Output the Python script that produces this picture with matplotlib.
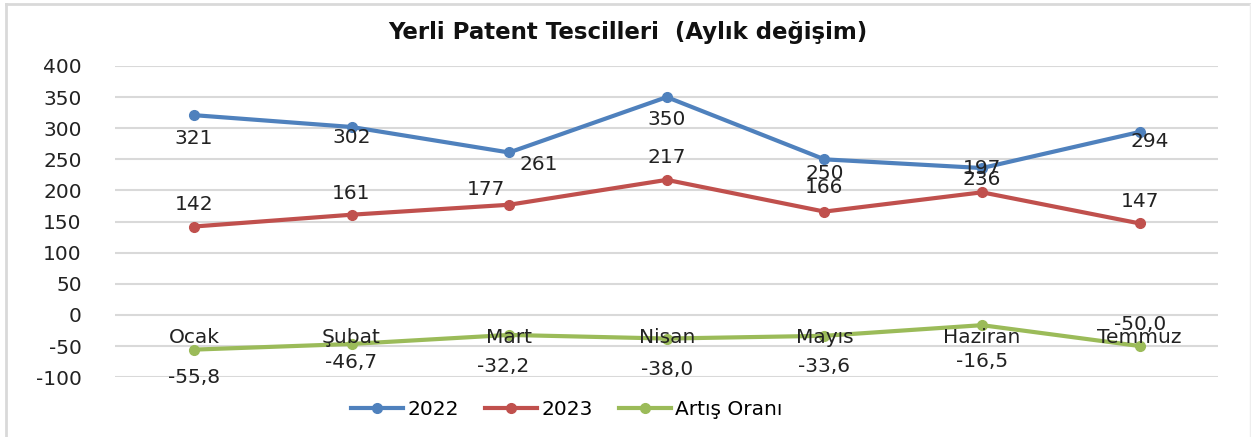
import matplotlib
matplotlib.use('Agg')
import matplotlib.pyplot as plt
from matplotlib.lines import Line2D

months = ['Ocak', 'Şubat', 'Mart', 'Nisan', 'Mayıs', 'Haziran', 'Temmuz']
v2022 = [321, 302, 261, 350, 250, 236, 294]
v2023 = [142, 161, 177, 217, 166, 197, 147]
artis = [-55.8, -46.7, -32.2, -38.0, -33.6, -16.5, -50.0]
# labels as printed on the original (Haziran labels are swapped there)
lbl2022 = ['321', '302', '261', '350', '250', '197', '294']
lbl2023 = ['142', '161', '177', '217', '166', '236', '147']
lblartis = ['-55,8', '-46,7', '-32,2', '-38,0', '-33,6', '-16,5', '-50,0']
yticks = [-100, -50, 0, 50, 100, 150, 200, 250, 300, 350, 400]

c_blue = '#4F81BD'
c_red = '#C0504D'
c_green = '#9BBB59'

# label offsets in pixels (dx, dy), dy positive = downwards
off2022 = [(0, 23), (0, 11), (30, 12), (0, 22), (0, 14), (0, 0), (10, 10)]
off2023 = [(0, -22), (0, -21), (-23, -15), (0, -22), (0, -24), (0, -13), (0, -22)]
offartis = [(0, 28), (0, 19), (-6, 32), (0, 31), (0, 31), (0, 36), (0, -22)]

fig = plt.figure(figsize=(12.51, 4.37), dpi=100)
ax = fig.add_axes([0.092, 0.137, 0.882, 0.712])

x = list(range(len(months)))
kw = dict(lw=3, marker='o', ms=7, solid_capstyle='round', zorder=3)
ax.plot(x, v2022, color=c_blue, **kw)
ax.plot(x, v2023, color=c_red, **kw)
ax.plot(x, artis, color=c_green, **kw)

fs = 14.5
for vals, lbls, offs in [(v2022, lbl2022, off2022), (v2023, lbl2023, off2023),
                         (artis, lblartis, offartis)]:
    for i, (v, t, (dx, dy)) in enumerate(zip(vals, lbls, offs)):
        ax.annotate(t, (i, v), xytext=(dx, -dy), textcoords='offset pixels',
                    ha='center', va='center', fontsize=fs, color='#222222', zorder=4)

# category labels sit just under the zero line
for i, m in enumerate(months):
    ax.annotate(m, (i, 0), xytext=(0, -23), textcoords='offset pixels',
                ha='center', va='center', fontsize=fs, color='#222222', zorder=4)

ax.set_xlim(-0.5, len(months) - 0.5)
ax.set_ylim(-100, 400)
ax.set_yticks(yticks)
ax.set_yticklabels([str(t) for t in yticks], fontsize=fs, color='#222222')
ax.tick_params(axis='y', length=0, pad=24)
ax.set_xticks([])
ax.grid(axis='y', color='#D9D9D9', lw=1.5)
ax.set_axisbelow(True)
for s in ax.spines.values():
    s.set_visible(False)

fig.text(0.502, 0.925, 'Yerli Patent Tescilleri  (Aylık değişim)', ha='center', va='center',
         fontsize=16.5, fontweight='bold', color='#111111')

handles = [Line2D([], [], color=c, lw=3, marker='o', ms=7) for c in (c_blue, c_red, c_green)]
fig.legend(handles, ['2022', '2023', 'Artış Oranı'], loc='center', bbox_to_anchor=(0.453, 0.062),
           ncol=3, frameon=False, fontsize=fs, handlelength=2.6, handletextpad=0.2,
           columnspacing=1.3)

# light frame around the chart
fig.add_artist(Line2D([0.005, 0.005], [0, 0.99], transform=fig.transFigure, color='#D9D9D9', lw=2))
fig.add_artist(Line2D([0.005, 1.0], [0.99, 0.99], transform=fig.transFigure, color='#D9D9D9', lw=2))
fig.add_artist(Line2D([0.9995, 0.9995], [0, 0.99], transform=fig.transFigure, color='#EEEEEE', lw=1))

fig.savefig('out.png', dpi=100, facecolor='white')
